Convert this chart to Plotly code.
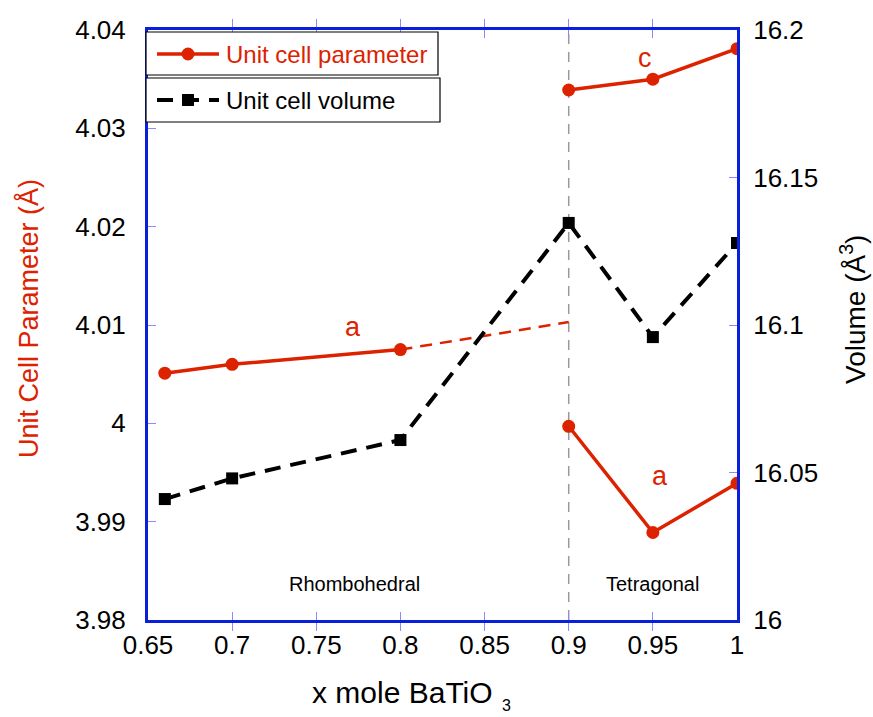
import plotly.graph_objects as go

# Data
x_rh = [0.66, 0.7, 0.8]
a_rh = [4.0051, 4.0060, 4.0075]
x_ext = [0.8, 0.9]
a_ext = [4.0075, 4.0103]
x_tet = [0.9, 0.95, 1.0]
c_tet = [4.0339, 4.0350, 4.0381]
a_tet = [3.9997, 3.9889, 3.9939]
x_vol = [0.66, 0.7, 0.8, 0.9, 0.95, 1.0]
vol = [16.041, 16.048, 16.061, 16.1346, 16.0959, 16.1278]

RED = "#dd2200"
BLUE = "#0a1fdc"
TICK = "#8a8aff"
FONT = "Liberation Sans, Arial, sans-serif"

fig = go.Figure()
line_red = dict(color=RED, width=3.5)
mk_red = dict(color=RED, size=13, symbol="circle")
fig.add_trace(go.Scatter(x=x_rh, y=a_rh, mode="lines+markers", line=line_red, marker=mk_red, showlegend=False))
fig.add_trace(go.Scatter(x=x_ext, y=a_ext, mode="lines", line=dict(color=RED, width=2.5, dash="12px,8px"), showlegend=False))
fig.add_trace(go.Scatter(x=x_tet, y=c_tet, mode="lines+markers", line=line_red, marker=mk_red, showlegend=False))
fig.add_trace(go.Scatter(x=x_tet, y=a_tet, mode="lines+markers", line=line_red, marker=mk_red, showlegend=False))
fig.add_trace(go.Scatter(x=x_vol, y=vol, yaxis="y2", mode="lines+markers",
                         line=dict(color="black", width=4, dash="16px,10px"),
                         marker=dict(color="black", size=12, symbol="square"), showlegend=False))

L, R, T, B = 148, 737, 30, 620
def px(p):
    return (p - L) / (R - L)
def py(p):
    return (B - p) / (B - T)

shapes = []
annotations = []
# vertical dashed line at 0.9
shapes.append(dict(type="line", xref="x", yref="paper", x0=0.9, x1=0.9, y0=0, y1=1,
                   line=dict(color="#999999", width=1.5, dash="10px,8px"), layer="below"))
# legend boxes
for (y0, y1, x1) in [(32, 75, 438), (78, 122, 440)]:
    shapes.append(dict(type="rect", xref="paper", yref="paper", x0=px(146), x1=px(x1), y0=py(y1), y1=py(y0),
                       line=dict(color="black", width=1.2), fillcolor="white"))
# legend glyphs
shapes.append(dict(type="line", xref="paper", yref="paper", x0=px(157), x1=px(219), y0=py(54), y1=py(54),
                   line=dict(color=RED, width=3.5)))
shapes.append(dict(type="circle", xref="paper", yref="paper", x0=px(181.5), x1=px(194.5), y0=py(60.5), y1=py(47.5),
                   line=dict(color=RED, width=0), fillcolor=RED))
shapes.append(dict(type="line", xref="paper", yref="paper", x0=px(157), x1=px(219), y0=py(100), y1=py(100),
                   line=dict(color="black", width=4, dash="16px,10px")))
shapes.append(dict(type="rect", xref="paper", yref="paper", x0=px(182), x1=px(194), y0=py(106), y1=py(94),
                   line=dict(color="black", width=0), fillcolor="black"))
annotations.append(dict(xref="paper", yref="paper", x=px(224), y=py(54), text="Unit cell parameter",
                        showarrow=False, xanchor="left", yanchor="middle", font=dict(color=RED, size=24, family=FONT)))
annotations.append(dict(xref="paper", yref="paper", x=px(224), y=py(100), text="Unit cell volume",
                        showarrow=False, xanchor="left", yanchor="middle", font=dict(color="black", size=24, family=FONT)))
# labels
annotations.append(dict(x=0.7718, y=4.0098, text="a", showarrow=False, font=dict(color=RED, size=27, family=FONT)))
annotations.append(dict(x=0.9453, y=4.0372, text="c", showarrow=False, font=dict(color=RED, size=27, family=FONT)))
annotations.append(dict(x=0.9543, y=3.9946, text="a", showarrow=False, font=dict(color=RED, size=27, family=FONT)))
annotations.append(dict(x=0.773, y=3.9837, text="Rhombohedral", showarrow=False, font=dict(color="black", size=20, family=FONT)))
annotations.append(dict(x=0.9497, y=3.9837, text="Tetragonal", showarrow=False, font=dict(color="black", size=20, family=FONT)))
# axis titles
annotations.append(dict(xref="paper", yref="paper", x=px(28), y=py(319), text="Unit Cell Parameter (Å)",
                        textangle=-90, showarrow=False, xanchor="center", yanchor="middle",
                        font=dict(color=RED, size=27, family=FONT)))
annotations.append(dict(xref="paper", yref="paper", x=px(853), y=py(310), text="Volume (Å<sup>3</sup>)",
                        textangle=-90, showarrow=False, xanchor="center", yanchor="middle",
                        font=dict(color="black", size=28, family=FONT)))
annotations.append(dict(xref="paper", yref="paper", x=px(310), y=py(692), text="x mole BaTiO",
                        showarrow=False, xanchor="left", yanchor="middle",
                        font=dict(color="black", size=30, family=FONT)))
annotations.append(dict(xref="paper", yref="paper", x=px(506), y=py(716), text="3",
                        showarrow=False, xanchor="center", yanchor="bottom",
                        font=dict(color="black", size=16, family=FONT)))

fig.update_layout(
    width=873, height=717,
    margin=dict(l=L, r=873 - R, t=T, b=717 - B, autoexpand=False),
    paper_bgcolor="white", plot_bgcolor="white",
    font=dict(family=FONT, size=26, color="black"),
    shapes=shapes, annotations=annotations,
    xaxis=dict(range=[0.65, 1.0], dtick=0.05, tick0=0.65, showgrid=False, zeroline=False,
               showline=True, linecolor=BLUE, linewidth=3, mirror="allticks",
               ticks="inside", ticklen=8, tickcolor=TICK, tickwidth=1,
               tickfont=dict(size=26), ticklabelstandoff=0),
    yaxis=dict(range=[3.98, 4.04], dtick=0.01, showgrid=False, zeroline=False,
               showline=True, linecolor=BLUE, linewidth=3,
               ticks="inside", ticklen=8, tickcolor=TICK, tickwidth=1,
               tickfont=dict(size=26), ticklabelstandoff=14),
    yaxis2=dict(range=[16.0, 16.2], dtick=0.05, overlaying="y", side="right", showgrid=False, zeroline=False,
                showline=True, linecolor=BLUE, linewidth=3,
                ticks="inside", ticklen=8, tickcolor=TICK, tickwidth=1,
                tickfont=dict(size=26), ticklabelstandoff=8),
)

fig.write_html("out.html")
